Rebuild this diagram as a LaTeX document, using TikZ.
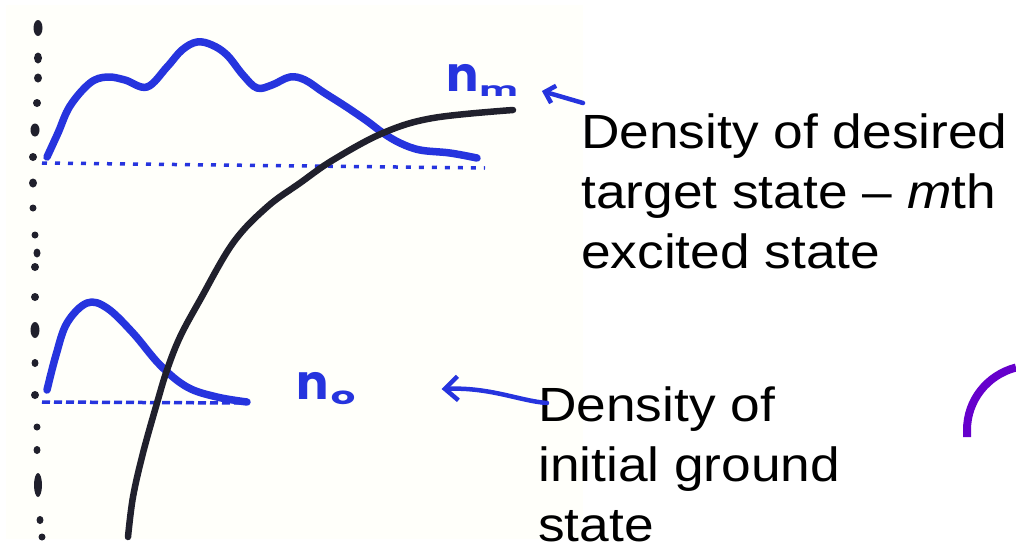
\documentclass[tikz,border=0pt]{standalone}
\usepackage{fontspec}
\setmainfont{Liberation Sans}
\newfontfamily\txtfont{Liberation Sans}[FakeStretch=1.11,Ligatures=TeX]
\newfontfamily\handfont{Poppins}
\usetikzlibrary{arrows.meta,calc}
\definecolor{penblue}{RGB}{38,52,222}
\definecolor{penblack}{RGB}{32,32,44}
\definecolor{scanbg}{RGB}{255,255,250}
\definecolor{arcpurple}{RGB}{102,0,204}
\tikzset{
  bluecurve/.style={penblue, line width=7.5pt, line cap=round, line join=round},
  blackcurve/.style={penblack, line width=6.5pt, line cap=round},
  baseline dots/.style={penblue, line width=3.5pt},
  axisdot/.style={penblack},
  handlabel/.style={penblue, inner sep=0pt, font=\handfont\bfseries\fontsize{48}{48}\selectfont},
  bigtext/.style={inner sep=0pt, anchor=north west, align=left, font=\txtfont\fontsize{48}{60}\selectfont},
  handarrow/.style={penblue, line width=4.5pt, line cap=round},
}
\begin{document}
\begin{tikzpicture}[x=1pt,y=-1pt]
\useasboundingbox (0,0) rectangle (1016,557);
% scanned sheet
\fill[scanbg] (6,5) rectangle (583,539);

% dotted vertical axis
\foreach \x/\y/\w/\h in {38/28/4.5/8, 38/58/4/5.5, 38/78/4/4.5, 37/103/4/4, 35/130/4.5/6.5, 33/157/4/4, 33/183/4/4.5, 33/208/3.5/3.5, 35/235/3.5/3.5, 37/253/3.5/4.5, 35/267/4/4, 35/297/4/4, 35/330/4.5/8, 35/363/3.5/4, 35/395/4/4, 37/427/3.5/3.5, 37/450/3.5/4, 38/485/4/12, 40/520/3.5/4, 42/537/3.5/3.5}
  \fill[axisdot] (\x,\y) ellipse [x radius=\w, y radius=\h];

% dotted base lines
\draw[baseline dots, dash pattern=on 5pt off 8pt] (42,163) -- (485,168);
\draw[baseline dots, dash pattern=on 8pt off 4pt] (42,402) -- (246,403);

% upper density (target state)
\draw[bluecurve] plot[smooth, tension=0.6] coordinates {
  (47,157) (58,133) (70,106) (90,83) (107,77) (125,80) (147,87) (167,67)
  (182,50) (197,42) (212,45) (227,55) (243,75) (257,88) (272,85) (290,77)
  (305,80) (323,92) (345,106) (367,121) (383,133) (400,143) (420,150)
  (450,153) (477,158)};

% lower density (ground state)
\draw[bluecurve] plot[smooth, tension=0.6] coordinates {
  (47,390) (56,355) (67,323) (87,303) (107,308) (133,333) (160,365)
  (187,387) (217,397) (247,402)};

% black rising curve
\draw[blackcurve] plot[smooth, tension=0.6] coordinates {
  (128,537) (133,497) (143,453) (157,403) (167,370) (180,337) (200,300)
  (233,243) (267,207) (300,183) (333,160) (383,133) (433,118) (513,110)};

% hand-written labels
\node[handlabel] (nm) at (482,80) {n\kern1pt\raisebox{-5pt}{\scalebox{1.5}[0.8]{\fontsize{24}{24}\selectfont m}}};
\node[handlabel] (n0) at (326,389) {n\kern2pt\raisebox{-5pt}{\scalebox{1.6}[1]{\fontsize{24}{24}\selectfont o}}};

% explanatory texts
\node[bigtext] (t1) at (581,114) {Density of desired\\target state \textendash{} \textit{m}th\\excited state};
\node[bigtext] (t2) at (538,387) {Density of\\initial ground\\state};

% arrows from texts to labels
\draw[handarrow, -{Straight Barb[length=9pt,width=18pt]}]
  ($(t1.north west)+(2,-11)$) -- ($(nm.east)+(24,11)$);
\draw[handarrow, -{Straight Barb[length=13pt,width=24pt]}]
  ($(t2.north west)+(9,16)$) .. controls (520,401) and (490,387) .. ($(n0.east)+(86,0)$);

% purple arc at the right edge
\draw[arcpurple, line width=8pt] (967,437) -- (967,430) .. controls (967,400.6) and (987,375) .. (1016,367.5);
\end{tikzpicture}
\end{document}
